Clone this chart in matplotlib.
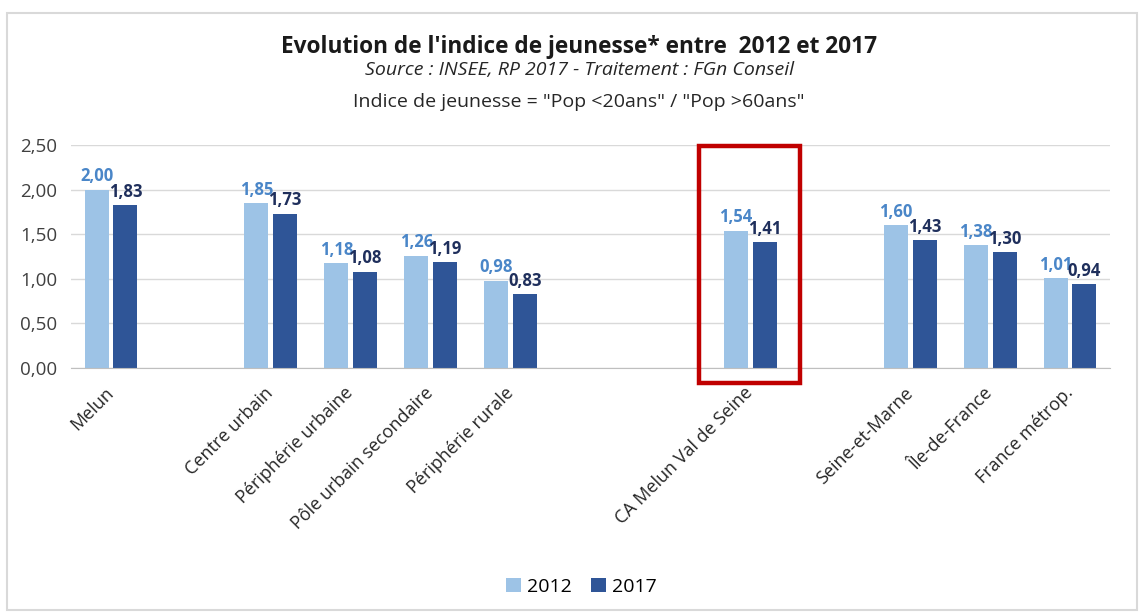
'''
Indice de jeunesse 2012 / 2017 - bar chart
'''
import numpy as np
import matplotlib
matplotlib.use('Agg')
from matplotlib import pyplot as plt
from matplotlib.patches import Rectangle

plt.rcParams['font.family'] = ['Open Sans', 'DejaVu Sans']

# empty strings = blank slots in the Excel chart
categories = ['Melun', '', 'Centre urbain', 'Périphérie urbaine', 'Pôle urbain secondaire',
              'Périphérie rurale', '', '', 'CA Melun Val de Seine', '',
              'Seine-et-Marne', 'Île-de-France', 'France métrop.']
val_2012 = [2.00, np.nan, 1.85, 1.18, 1.26, 0.98, np.nan, np.nan, 1.54, np.nan, 1.60, 1.38, 1.01]
val_2017 = [1.83, np.nan, 1.73, 1.08, 1.19, 0.83, np.nan, np.nan, 1.41, np.nan, 1.43, 1.30, 0.94]
series_names = ['2012', '2017']
yticks = [0, 0.5, 1.0, 1.5, 2.0, 2.5]
highlight = 'CA Melun Val de Seine'

col_light = '#9DC3E6'
col_dark = '#2F5597'
lab_light = '#4A86C8'
lab_dark = '#1F2F5C'

fig = plt.figure(figsize=(11.4, 6.13), dpi=100)
ax = fig.add_axes([0.0623, 0.3997, 0.9114, 0.3638])

x = np.arange(len(categories))
w = 0.30
off = 0.18
b1 = ax.bar(x - off, val_2012, w, color=col_light, label=series_names[0], zorder=2)
b2 = ax.bar(x + off, val_2017, w, color=col_dark, label=series_names[1], zorder=2)

def fmt(v):
    return '{:.2f}'.format(v).replace('.', ',')

for xi, v in zip(x, val_2012):
    if not np.isnan(v):
        ax.annotate(fmt(v), (xi - off, v), xytext=(0, 3), textcoords='offset points',
                    ha='center', va='bottom', fontsize=12, fontweight='bold', color=lab_light)
for xi, v in zip(x, val_2017):
    if not np.isnan(v):
        ax.annotate(fmt(v), (xi + off, v), xytext=(0, 3), textcoords='offset points',
                    ha='center', va='bottom', fontsize=12, fontweight='bold', color=lab_dark)

ax.set_xlim(-0.5, len(categories) - 0.5)
ax.set_ylim(0, 2.5)
ax.set_yticks(yticks)
ax.set_yticklabels([fmt(t) for t in yticks], fontsize=13.5, color='#404040')
ax.set_xticks(x)
ax.set_xticklabels(categories, rotation=45, ha='right', va='center', rotation_mode='anchor',
                   fontsize=13, color='#262626')
ax.tick_params(axis='both', length=0)
ax.tick_params(axis='x', pad=16)
ax.tick_params(axis='y', pad=10)
ax.grid(axis='y', color='#D9D9D9', lw=1, zorder=0)
for s in ['top', 'right', 'left']:
    ax.spines[s].set_visible(False)
ax.spines['bottom'].set_color('#BFBFBF')

# red frame around the agglomeration
hx = categories.index(highlight)
ax.add_patch(Rectangle((hx - 0.64, -0.17), 1.26, 2.66, fill=False, ec='#C00000', lw=3.2,
                       clip_on=False, zorder=5))

fig.text(0.508, 0.923, "Evolution de l'indice de jeunesse* entre  2012 et 2017",
         ha='center', va='center', fontsize=16.3, fontweight='bold', color='#1a1a1a')
fig.text(0.508, 0.885, 'Source : INSEE, RP 2017 - Traitement : FGn Conseil',
         ha='center', va='center', fontsize=14, style='italic', color='#262626')
fig.text(0.508, 0.834, 'Indice de jeunesse = "Pop <20ans" / "Pop >60ans"',
         ha='center', va='center', fontsize=14, color='#262626')

fig.legend(handles=[b1, b2], labels=series_names, loc='center', bbox_to_anchor=(0.51, 0.043),
           ncol=2, frameon=False, fontsize=14, handlelength=0.75, handleheight=0.75,
           handletextpad=0.3, columnspacing=1.0)

# light border around the whole chart
fig.patches.append(Rectangle((7 / 1140, 3 / 613), 1130 / 1140, 597 / 613, fill=False,
                             ec='#D9D9D9', lw=1.5, transform=fig.transFigure, figure=fig))

plt.savefig('out.png', dpi=100)
